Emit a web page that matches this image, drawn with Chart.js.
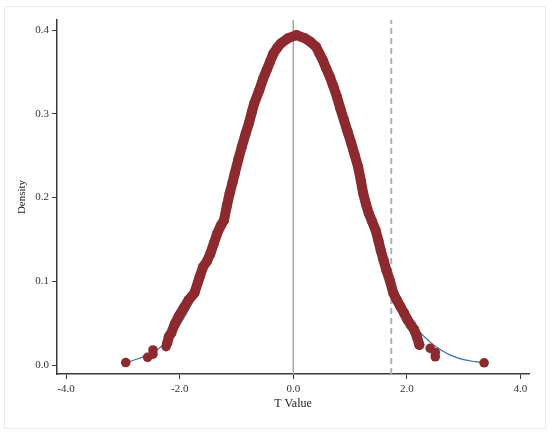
<!DOCTYPE html>
<html>
<head>
<meta charset="utf-8">
<script src="https://cdn.jsdelivr.net/npm/chart.js@4/dist/chart.umd.min.js"></script>
<style>
    body { margin: 0; background: #fff; }
    #wrap { position: relative; width: 550px; height: 433px; }
    #frame { position: absolute; left: 4px; top: 6px; width: 540px; height: 421px; border: 1px solid #e4ecec; pointer-events: none; }
</style>
</head>
<body>
<div id="wrap">
    <canvas id="densityChart" width="550" height="433"></canvas>
    <div id="frame"></div>
</div>
<script>
// Axis ticks
const xTicks = [-4, -2, 0, 2, 4];
const yTicks = [0, 0.1, 0.2, 0.3, 0.4];
const xRange = [-4.16, 4.15];
const yRange = [-0.0107, 0.412];

// Reference lines (T = 0 and the critical value)
const zeroLineX = 0;
const criticalX = 1.725;

// Smooth density curve (blue)
const curveX = [-2.94, -2.8, -2.6, -2.4, -2.2, -2.0, -1.8, -1.6, -1.4, -1.2, -1.0, -0.8, -0.6, -0.4, -0.2, 0.05,
    0.2, 0.4, 0.6, 0.8, 1.0, 1.2, 1.4, 1.6, 1.8, 2.0, 2.2, 2.4, 2.6, 2.8, 3.0, 3.2, 3.35];
const curveY = [0.003, 0.006, 0.011, 0.018, 0.03, 0.048, 0.072, 0.103, 0.14, 0.182, 0.228, 0.276, 0.32, 0.358, 0.383, 0.394,
    0.391, 0.373, 0.342, 0.302, 0.257, 0.21, 0.166, 0.126, 0.092, 0.064, 0.042, 0.028, 0.018, 0.011, 0.0065, 0.004, 0.0027];

// Simulated T values and their density (dense middle part)
const bandX = [-2.22, -2.19, -2.15, -2.08, -2.02, -1.93, -1.84, -1.74, -1.65, -1.59, -1.52, -1.46, -1.40, -1.34, -1.28,
    -1.22, -1.17, -1.12, -1.07, -1.03, -0.97, -0.905, -0.84, -0.78, -0.73, -0.69, -0.6, -0.53, -0.47, -0.41, -0.35,
    -0.28, -0.22, -0.1, 0.056, 0.21, 0.3, 0.4, 0.46, 0.52, 0.58, 0.645, 0.71, 0.77, 0.83, 0.89, 0.955, 1.02, 1.08,
    1.14, 1.19, 1.23, 1.28, 1.33, 1.39, 1.45, 1.50, 1.54, 1.59, 1.64, 1.70, 1.76, 1.82, 1.885, 1.95, 2.01, 2.07,
    2.13, 2.18, 2.22];
const bandY = [0.026, 0.034, 0.038, 0.05, 0.058, 0.068, 0.078, 0.086, 0.105, 0.117, 0.124, 0.133, 0.145, 0.157, 0.166,
    0.173, 0.19, 0.205, 0.218, 0.229, 0.245, 0.261, 0.276, 0.289, 0.302, 0.312, 0.328, 0.342, 0.352, 0.362, 0.372,
    0.379, 0.384, 0.39, 0.394, 0.39, 0.386, 0.38, 0.372, 0.364, 0.354, 0.344, 0.332, 0.32, 0.306, 0.293, 0.279, 0.265, 0.251,
    0.237, 0.22, 0.205, 0.192, 0.181, 0.171, 0.161, 0.148, 0.137, 0.125, 0.113, 0.101, 0.086, 0.078, 0.07, 0.062, 0.054, 0.048,
    0.042, 0.033, 0.024];

// Isolated T values in the tails
const tailX = [-2.95, -2.565, -2.47, -2.47, -2.24, 2.41, 2.50, 2.50, 3.36];
const tailY = [0.003, 0.0092, 0.013, 0.018, 0.022, 0.020, 0.0099, 0.015, 0.0027];

const dotColor = '#8c2a2f';
const axisColor = '#3a3a3a';
const serif = 'Liberation Serif';

function toPoints(xs, ys) {
    return xs.map((x, i) => ({ x: x, y: ys[i] }));
}

const ctx = document.getElementById('densityChart').getContext('2d');
const densityChart = new Chart(ctx, {
    type: 'scatter',
    data: {
        datasets: [
            {
                label: 'T = 0',
                data: [{ x: zeroLineX, y: yRange[0] }, { x: zeroLineX, y: yRange[1] }],
                showLine: true,
                borderColor: '#a6a6a6',
                borderWidth: 1.5,
                pointRadius: 0,
                order: 4
            },
            {
                label: 'Critical value',
                data: [{ x: criticalX, y: yRange[0] }, { x: criticalX, y: yRange[1] }],
                showLine: true,
                borderColor: '#b0b0b0',
                borderWidth: 2,
                borderDash: [6, 4],
                pointRadius: 0,
                order: 4
            },
            {
                label: 'Density curve',
                data: toPoints(curveX, curveY),
                showLine: true,
                borderColor: '#3d6f9f',
                borderWidth: 1.2,
                tension: 0.4,
                pointRadius: 0,
                order: 3
            },
            {
                label: 'T values',
                data: toPoints(bandX, bandY),
                showLine: true,
                borderColor: dotColor,
                borderWidth: 10,
                borderJoinStyle: 'round',
                borderCapStyle: 'round',
                backgroundColor: dotColor,
                pointRadius: 5,
                pointBorderWidth: 0,
                order: 1
            },
            {
                label: 'T values (tails)',
                data: toPoints(tailX, tailY),
                showLine: false,
                backgroundColor: dotColor,
                borderColor: dotColor,
                pointRadius: 4.8,
                pointBorderWidth: 0,
                order: 1
            }
        ]
    },
    options: {
        responsive: false,
        animation: false,
        devicePixelRatio: 1,
        layout: { padding: { left: 0, top: 20, right: 21, bottom: 0 } },
        plugins: {
            legend: { display: false },
            tooltip: { enabled: false }
        },
        scales: {
            x: {
                type: 'linear',
                min: xRange[0],
                max: xRange[1],
                afterFit: scale => { scale.height = 59; },
                afterBuildTicks: scale => { scale.ticks = xTicks.map(v => ({ value: v })); },
                grid: {
                    display: true,
                    drawOnChartArea: false,
                    drawTicks: true,
                    tickLength: 5,
                    color: axisColor
                },
                border: { display: true, color: axisColor, width: 1.5 },
                ticks: {
                    padding: 4,
                    color: '#333',
                    font: { family: serif, size: 11 },
                    callback: v => v.toFixed(1)
                },
                title: {
                    display: true,
                    text: 'T Value',
                    color: '#222',
                    font: { family: serif, size: 12 },
                    padding: { top: 0, bottom: 22 }
                }
            },
            y: {
                type: 'linear',
                min: yRange[0],
                max: yRange[1],
                afterFit: scale => { scale.width = 57; },
                afterBuildTicks: scale => { scale.ticks = yTicks.map(v => ({ value: v })); },
                grid: {
                    display: true,
                    drawOnChartArea: false,
                    drawTicks: true,
                    tickLength: 5,
                    color: axisColor
                },
                border: { display: true, color: axisColor, width: 1.5 },
                ticks: {
                    padding: 3,
                    color: '#333',
                    font: { family: serif, size: 11 },
                    callback: v => v.toFixed(1)
                },
                title: {
                    display: true,
                    text: 'Density',
                    color: '#222',
                    font: { family: serif, size: 11 },
                    padding: { top: 16, bottom: 0 }
                }
            }
        }
    }
});
</script>
</body>
</html>
